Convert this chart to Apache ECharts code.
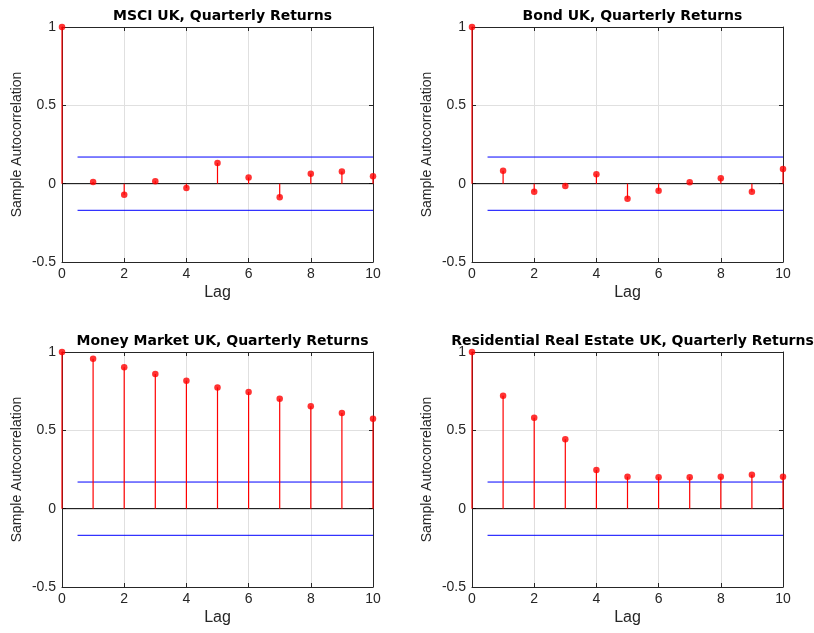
<!DOCTYPE html>
<html>
<head>
<meta charset="utf-8">
<script src="https://cdn.jsdelivr.net/npm/echarts@6/dist/echarts.min.js"></script>
<style>html,body{margin:0;padding:0;background:#fff}#c{width:814px;height:633px}</style>
</head>
<body>
<div id="c"></div>
<script>
const lags = [0, 1, 2, 3, 4, 5, 6, 7, 8, 9, 10];
const titles = [
  'MSCI UK, Quarterly Returns',
  'Bond UK, Quarterly Returns',
  'Money Market UK, Quarterly Returns',
  'Residential Real Estate UK, Quarterly Returns'
];
const msciAcf  = [1, 0.010, -0.070, 0.015, -0.028, 0.132, 0.040, -0.087, 0.064, 0.077, 0.047];
const bondAcf  = [1, 0.083, -0.051, -0.015, 0.060, -0.096, -0.045, 0.009, 0.034, -0.051, 0.094];
const moneyAcf = [1, 0.957, 0.902, 0.860, 0.817, 0.774, 0.745, 0.702, 0.653, 0.611, 0.574];
const residAcf = [1, 0.721, 0.581, 0.443, 0.247, 0.204, 0.200, 0.200, 0.204, 0.217, 0.204];
const upperBound = [0.17, 0.17, 0.17, 0.17];
const lowerBound = [-0.17, -0.17, -0.17, -0.17];
const boundStart = 0.5;
const boundEnd = 10;
const xTicks = [0, 2, 4, 6, 8, 10];
const yTicks = [-0.5, 0, 0.5, 1];

const allAcf = [msciAcf, bondAcf, moneyAcf, residAcf];
const grids = [
  {left: 62, width: 311, top: 27, height: 235},
  {left: 472, width: 311, top: 27, height: 235},
  {left: 62, width: 311, top: 352, height: 235},
  {left: 472, width: 311, top: 352, height: 235}
];
const FONT = '"Liberation Sans", Arial, Helvetica, sans-serif';
const TFONT = '"DejaVu Sans", "Liberation Sans", Arial, sans-serif';
const AX = '#262626';

const option = {
  animation: false,
  backgroundColor: '#fff',
  title: [], grid: [], xAxis: [], yAxis: [], series: []
};

grids.forEach((g, i) => {
  option.grid.push({left: g.left, top: g.top, width: g.width, height: g.height, containLabel: false, show: false});
  option.title.push({
    text: titles[i], left: g.left + g.width / 2, top: g.top - 23, textAlign: 'center',
    textStyle: {fontFamily: TFONT, fontSize: 14, fontWeight: 'bold', color: '#000'}
  });
  const xi = option.xAxis.length;
  const yi = option.yAxis.length;
  option.xAxis.push({
    type: 'value', gridIndex: i, min: xTicks[0], max: xTicks[xTicks.length - 1], interval: 2,
    name: 'Lag', nameLocation: 'middle', nameGap: 23,
    nameTextStyle: {fontFamily: FONT, fontSize: 16, color: AX},
    axisLine: {onZero: false, lineStyle: {color: AX, width: 1}},
    axisTick: {inside: true, length: 4, lineStyle: {color: AX}},
    axisLabel: {fontFamily: FONT, fontSize: 14, color: AX, margin: 5},
    splitLine: {show: true, lineStyle: {color: '#e0e0e0', width: 1}}
  });
  option.xAxis.push({
    type: 'value', gridIndex: i, position: 'top', min: xTicks[0], max: xTicks[xTicks.length - 1], interval: 2,
    axisLine: {onZero: false, lineStyle: {color: AX, width: 1}},
    axisTick: {inside: true, length: 4, lineStyle: {color: AX}},
    axisLabel: {show: false}, splitLine: {show: false}
  });
  option.yAxis.push({
    type: 'value', gridIndex: i, min: yTicks[0], max: yTicks[yTicks.length - 1], interval: 0.5,
    name: 'Sample Autocorrelation', nameLocation: 'middle', nameGap: 38, nameRotate: 90,
    nameTextStyle: {fontFamily: FONT, fontSize: 14, color: AX},
    axisLine: {onZero: false, lineStyle: {color: AX, width: 1}},
    axisTick: {inside: true, length: 4, lineStyle: {color: AX}},
    axisLabel: {fontFamily: FONT, fontSize: 14, color: AX, margin: 6},
    splitLine: {show: true, lineStyle: {color: '#e0e0e0', width: 1}}
  });
  option.yAxis.push({
    type: 'value', gridIndex: i, position: 'right', min: yTicks[0], max: yTicks[yTicks.length - 1], interval: 0.5,
    axisLine: {onZero: false, lineStyle: {color: AX, width: 1}},
    axisTick: {inside: true, length: 4, lineStyle: {color: AX}},
    axisLabel: {show: false}, splitLine: {show: false}
  });
  const pts = lags.map((l, k) => [l, allAcf[i][k]]);
  option.series.push({
    type: 'line', xAxisIndex: xi, yAxisIndex: yi, data: [[xTicks[0], 0], [xTicks[xTicks.length - 1], 0]],
    symbol: 'none', lineStyle: {color: '#000', width: 1}, z: 3, silent: true
  });
  option.series.push({
    type: 'line', xAxisIndex: xi, yAxisIndex: yi, data: [[boundStart, upperBound[i]], [boundEnd, upperBound[i]]],
    symbol: 'none', lineStyle: {color: '#0000ff', width: 1}, z: 3, silent: true
  });
  option.series.push({
    type: 'line', xAxisIndex: xi, yAxisIndex: yi, data: [[boundStart, lowerBound[i]], [boundEnd, lowerBound[i]]],
    symbol: 'none', lineStyle: {color: '#0000ff', width: 1}, z: 3, silent: true
  });
  option.series.push({
    type: 'custom', xAxisIndex: xi, yAxisIndex: yi, data: pts, z: 4, silent: true,
    renderItem: function (params, api) {
      const p0 = api.coord([api.value(0), 0]);
      const p1 = api.coord([api.value(0), api.value(1)]);
      return {type: 'line', shape: {x1: p0[0], y1: p0[1], x2: p1[0], y2: p1[1]},
              style: {stroke: '#ff0000', lineWidth: 1.2}};
    }
  });
  option.series.push({
    type: 'scatter', xAxisIndex: xi, yAxisIndex: yi, data: pts, z: 5, silent: true,
    symbol: 'circle', symbolSize: 6.5, itemStyle: {color: '#ff0000'}
  });
});

const chart = echarts.init(document.getElementById('c'), null, {renderer: 'canvas'});
chart.setOption(option);
</script>
</body>
</html>
